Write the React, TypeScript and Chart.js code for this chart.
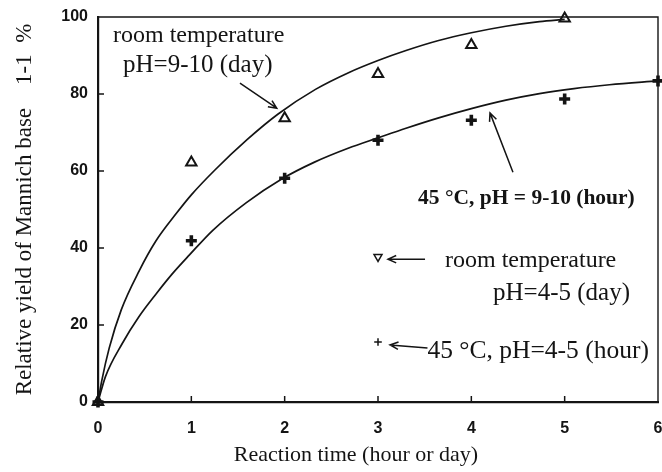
import React, { useEffect, useRef } from 'react';
import { Chart, registerables } from 'chart.js';

Chart.register(...registerables);

// ---- data ----
const xTickValues = [0, 1, 2, 3, 4, 5, 6];
const yTickValues = [0, 20, 40, 60, 80, 100];

// room temperature, pH = 9-10 (day) : open triangles
const rtHighX = [0, 1, 2, 3, 4, 5];
const rtHighY = [0, 62.2, 73.7, 85.2, 92.7, 99.6];

// 45 °C, pH = 9-10 (hour) : bold crosses
const hotHighX = [0, 1, 2, 3, 4, 5, 6];
const hotHighY = [0, 41.9, 58.1, 68.0, 73.2, 78.7, 83.4];

// room temperature, pH = 4-5 (day) : open down-triangle
const rtLowX = [3];
const rtLowY = [37.7];

// 45 °C, pH = 4-5 (hour) : thin cross
const hotLowX = [3];
const hotLowY = [15.6];

// fitted curve through triangles
const fitUpperX = [0, 0.04, 0.12, 0.25, 0.44, 0.62, 0.84, 1.0, 1.25, 1.6, 1.93, 2.33, 2.69, 3.0, 3.3, 3.65, 4.0, 4.37, 4.73, 5.0];
const fitUpperY = [0, 5.5, 14, 24, 34, 41.8, 49, 53.8, 60.2, 68.2, 74.8, 81.2, 85.6, 88.7, 91.3, 93.9, 95.9, 97.6, 98.8, 99.4];

// fitted curve through crosses
const fitLowerX = [0, 0.08, 0.26, 0.44, 0.62, 0.8, 0.98, 1.23, 1.59, 1.96, 2.32, 2.68, 3.0, 3.3, 3.65, 4.0, 4.37, 4.73, 5.1, 5.48, 6.0];
const fitLowerY = [0, 6.6, 15.2, 22.2, 28.0, 33.4, 38.2, 44.6, 51.8, 57.8, 62.3, 65.9, 68.6, 71.1, 73.8, 76.2, 78.4, 80.1, 81.4, 82.4, 83.4];

const yTitle = 'Relative yield of Mannich base    1-1  %';
const xTitle = 'Reaction time (hour or day)        ';

const zip = (xs: number[], ys: number[]) => xs.map((x, i) => ({ x, y: ys[i] }));

// ---- annotation layout (data coordinates) ----
const INK = '#141414';
const serif = '"Liberation Serif", "Times New Roman", serif';
const noteTexts = [
  { text: 'room temperature', x: 0.161, y: 93.6, align: 'left', font: `24px ${serif}` },
  { text: 'pH=9-10 (day)', x: 0.268, y: 85.8, align: 'left', font: `25px ${serif}` },
  { text: '45 °C, pH = 9-10 (hour)', x: 3.429, y: 51.4, align: 'left', font: `bold 21.5px ${serif}` },
  { text: 'room temperature', x: 3.718, y: 35.1, align: 'left', font: `24px ${serif}` },
  { text: 'pH=4-5 (day)', x: 5.7, y: 26.5, align: 'right', font: `25px ${serif}` },
  { text: '45 °C, pH=4-5 (hour)', x: 3.53, y: 11.4, align: 'left', font: `25.5px ${serif}` },
];
const noteArrows = [
  { from: [1.521, 82.8], to: [1.915, 76.3] },
  { from: [4.446, 59.7], to: [4.2, 75.1] },
  { from: [3.504, 37.1], to: [3.107, 37.1] },
  { from: [3.53, 14.0], to: [3.129, 14.8] },
];

const framePlugin = {
  id: 'frameTicks',
  afterDatasetsDraw(chart: any) {
    const { ctx, chartArea, scales } = chart;
    const xs = scales.x;
    const ys = scales.y;
    ctx.save();
    ctx.strokeStyle = INK;
    // top and right frame
    ctx.lineWidth = 1.4;
    ctx.beginPath();
    ctx.moveTo(chartArea.left, chartArea.top);
    ctx.lineTo(chartArea.right, chartArea.top);
    ctx.lineTo(chartArea.right, chartArea.bottom);
    ctx.stroke();
    // inward ticks
    ctx.lineWidth = 1.5;
    ctx.beginPath();
    xTickValues.forEach((v) => {
      if (v === 0 || v === 6) return;
      const px = xs.getPixelForValue(v);
      ctx.moveTo(px, chartArea.bottom);
      ctx.lineTo(px, chartArea.bottom - 6);
    });
    yTickValues.forEach((v) => {
      if (v === 0 || v === 100) return;
      const py = ys.getPixelForValue(v);
      ctx.moveTo(chartArea.left, py);
      ctx.lineTo(chartArea.left + 6, py);
    });
    ctx.stroke();
    ctx.restore();
  },
};

const notesPlugin = {
  id: 'notes',
  afterDraw(chart: any) {
    const { ctx, scales } = chart;
    const xs = scales.x;
    const ys = scales.y;
    ctx.save();
    ctx.fillStyle = INK;
    ctx.strokeStyle = INK;
    ctx.textBaseline = 'alphabetic';
    noteTexts.forEach((n) => {
      ctx.font = n.font;
      ctx.textAlign = n.align;
      ctx.fillText(n.text, xs.getPixelForValue(n.x), ys.getPixelForValue(n.y));
    });
    ctx.lineWidth = 1.5;
    noteArrows.forEach((a) => {
      const x1 = xs.getPixelForValue(a.from[0]);
      const y1 = ys.getPixelForValue(a.from[1]);
      const x2 = xs.getPixelForValue(a.to[0]);
      const y2 = ys.getPixelForValue(a.to[1]);
      const ang = Math.atan2(y2 - y1, x2 - x1);
      const head = 9;
      const spread = 0.42;
      ctx.beginPath();
      ctx.moveTo(x1, y1);
      ctx.lineTo(x2, y2);
      ctx.moveTo(x2 - head * Math.cos(ang - spread), y2 - head * Math.sin(ang - spread));
      ctx.lineTo(x2, y2);
      ctx.lineTo(x2 - head * Math.cos(ang + spread), y2 - head * Math.sin(ang + spread));
      ctx.stroke();
    });
    ctx.restore();
  },
};

const bgPlugin = {
  id: 'bg',
  beforeDraw(chart: any) {
    const { ctx, width, height } = chart;
    ctx.save();
    ctx.fillStyle = '#ffffff';
    ctx.fillRect(0, 0, width, height);
    ctx.restore();
  },
};

export default function App() {
  const canvasRef = useRef<HTMLCanvasElement | null>(null);

  useEffect(() => {
    const canvas = canvasRef.current;
    if (!canvas) return;
    const tickFont = { family: '"Liberation Sans", Arial, sans-serif', size: 16, weight: 'bold' as const };
    const chart = new Chart(canvas, {
      type: 'scatter',
      data: {
        datasets: [
          {
            label: 'fit upper',
            data: zip(fitUpperX, fitUpperY),
            showLine: true,
            pointRadius: 0,
            borderColor: INK,
            borderWidth: 1.7,
            cubicInterpolationMode: 'monotone',
            clip: false,
          },
          {
            label: 'fit lower',
            data: zip(fitLowerX, fitLowerY),
            showLine: true,
            pointRadius: 0,
            borderColor: INK,
            borderWidth: 1.7,
            cubicInterpolationMode: 'monotone',
            clip: false,
          },
          {
            label: 'room temperature pH=9-10 (day)',
            data: zip(rtHighX, rtHighY),
            pointStyle: 'triangle',
            pointRadius: 6,
            borderWidth: 2,
            borderColor: INK,
            backgroundColor: 'rgba(255,255,255,0)',
            clip: false,
          },
          {
            label: '45 °C, pH = 9-10 (hour)',
            data: zip(hotHighX, hotHighY),
            pointStyle: 'cross',
            pointRadius: 5.5,
            borderWidth: 3.6,
            borderColor: INK,
            clip: false,
          },
          {
            label: 'room temperature pH=4-5 (day)',
            data: zip(rtLowX, rtLowY),
            pointStyle: 'triangle',
            rotation: 180,
            pointRadius: 4.6,
            borderWidth: 1.5,
            borderColor: INK,
            backgroundColor: 'rgba(255,255,255,0)',
            clip: false,
          },
          {
            label: '45 °C, pH=4-5 (hour)',
            data: zip(hotLowX, hotLowY),
            pointStyle: 'cross',
            pointRadius: 3.8,
            borderWidth: 1.5,
            borderColor: INK,
            clip: false,
          },
        ],
      },
      options: {
        responsive: false,
        animation: false,
        events: [],
        layout: { autoPadding: false, padding: { left: 0, right: 4, top: 17, bottom: 0 } },
        plugins: {
          legend: { display: false },
          tooltip: { enabled: false },
        },
        scales: {
          x: {
            type: 'linear',
            min: 0,
            max: 6,
            afterBuildTicks: (s: any) => {
              s.ticks = xTickValues.map((v) => ({ value: v }));
            },
            afterFit: (s: any) => {
              s.height = 70;
              s.paddingLeft = 0;
              s.paddingRight = 0;
            },
            ticks: { font: tickFont, color: INK, padding: 17 },
            grid: { display: false, drawTicks: false },
            border: { display: true, width: 2.2, color: INK },
            title: {
              display: true,
              text: xTitle,
              font: { family: serif, size: 22 },
              color: INK,
              align: 'center',
              padding: { top: 0, bottom: 4 },
            },
          },
          y: {
            type: 'linear',
            min: 0,
            max: 100,
            afterBuildTicks: (s: any) => {
              s.ticks = yTickValues.map((v) => ({ value: v }));
            },
            afterFit: (s: any) => {
              s.width = 98;
              s.paddingTop = 0;
              s.paddingBottom = 0;
            },
            ticks: { font: tickFont, color: INK, padding: 10 },
            grid: { display: false, drawTicks: false },
            border: { display: true, width: 2.2, color: INK },
            title: {
              display: true,
              text: yTitle,
              font: { family: serif, size: 23 },
              color: INK,
              align: 'center',
              padding: { top: 11, bottom: 0 },
            },
          },
        },
      } as any,
      plugins: [bgPlugin, framePlugin, notesPlugin],
    });
    return () => chart.destroy();
  }, []);

  return (
    <div style={{ position: 'fixed', left: 0, top: 0, width: 662, height: 472, background: '#fff' }}>
      <canvas ref={canvasRef} width={662} height={472} style={{ display: 'block', width: 662, height: 472 }} />
    </div>
  );
}
